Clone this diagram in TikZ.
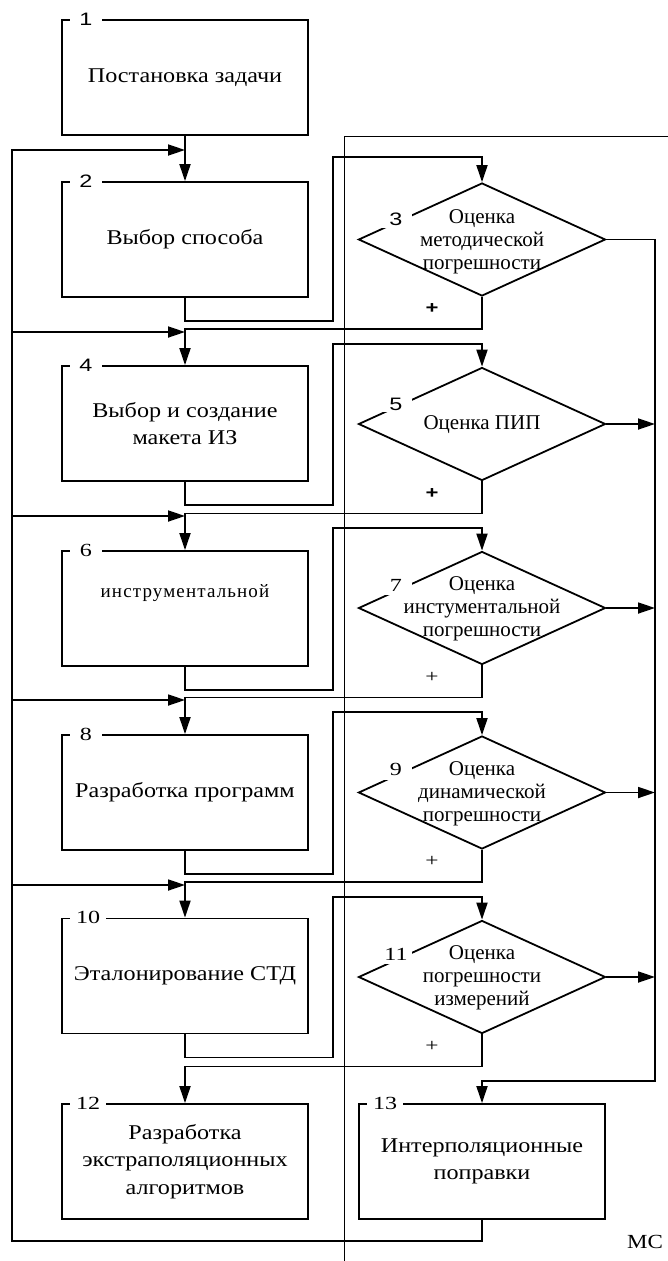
\documentclass[tikz,border=0pt]{standalone}
\usepackage{fontspec}
\setmainfont{Liberation Serif}
\newfontfamily\boxfont[FakeStretch=1.15]{Liberation Serif}
\newfontfamily\numsffont[FakeStretch=1.3]{Liberation Sans}
\newfontfamily\numrmfont[FakeStretch=1.3]{Liberation Serif}
\newfontfamily\wideletters[LetterSpace=6]{Liberation Serif}
\usetikzlibrary{arrows.meta,shapes.geometric,calc}

\begin{document}
\begin{tikzpicture}[x=1pt,y=-1pt,
  line width=1.8pt,
  stepbox/.style={draw, line width=1.8pt, minimum width=246pt, minimum height=115pt,
    inner sep=0pt, align=center, font=\boxfont\fontsize{21}{27.5}\selectfont},
  decision/.style={draw, diamond, line width=1.8pt, minimum width=247pt,
    minimum height=113pt, inner sep=0pt},
  dtext/.style={align=center, inner sep=0pt, font=\fontsize{21}{23}\selectfont},
  numsf/.style={fill=white, anchor=west, minimum width=32pt, inner xsep=6pt,
    inner ysep=1pt, font=\numsffont\fontsize{18}{18}\selectfont},
  numrm/.style={fill=white, anchor=west, minimum width=32pt, inner xsep=6pt,
    inner ysep=1pt, font=\numrmfont\fontsize{18.5}{18.5}\selectfont},
  dnumsf/.style={fill=white, minimum width=32pt, minimum height=16pt, inner sep=0pt,
    font=\numsffont\fontsize{18}{18}\selectfont},
  dnumrm/.style={fill=white, minimum width=32pt, minimum height=20pt, inner sep=0pt,
    font=\numrmfont\fontsize{18.5}{18.5}\selectfont},
  plussf/.style={inner sep=0pt, font=\numsffont\bfseries\fontsize{17}{17}\selectfont},
  plusrm/.style={inner sep=0pt, font=\numrmfont\fontsize{18}{18}\selectfont},
  arr/.style={-{Triangle[length=17pt,width=11pt]}},
]
\useasboundingbox (0,0) rectangle (668,1261);

% frame line
\draw[line width=0.9pt] (344,1261) |- (668,136);

% left column: process blocks
\node[stepbox] (b1)  at (185,77.5)   {Постановка задачи};
\node[stepbox] (b2)  at (185,239.5)  {Выбор способа};
\node[stepbox] (b4)  at (185,423.5)  {Выбор и создание\\макета ИЗ};
\node[stepbox] (b6)  at (185,608.5)  {};
\node[inner sep=0pt, font=\wideletters\fontsize{19}{19}\selectfont]
  (t6) at ([yshift=15pt]b6.center) {инструментальной};
\node[stepbox] (b8)  at (185,792.5)  {Разработка программ};
\node[stepbox] (b10) at (185,976)    {Эталонирование СТД};
\node[stepbox] (b12) at (185,1161.5) {Разработка\\экстраполяционных\\алгоритмов};
\node[stepbox] (b13) at (482,1161.5) {Интерполяционные\\поправки};

% right column: checks
\node[decision] (d3)  at (482,239.5) {};
\node[decision] (d5)  at (482,424)   {};
\node[decision] (d7)  at (482,608)   {};
\node[decision] (d9)  at (482,792.5) {};
\node[decision] (d11) at (482,977)   {};
\node[dtext] (t3)  at ([yshift=-2pt]d3.center)  {Оценка\\методической\\погрешности};
\node[dtext] (t5)  at ([yshift=-1pt]d5.center)  {Оценка ПИП};
\node[dtext] (t7)  at ([yshift=-1pt]d7.center)  {Оценка\\инстументальной\\погрешности};
\node[dtext] (t9)  at ([yshift=-1pt]d9.center)  {Оценка\\динамической\\погрешности};
\node[dtext] (t11) at ([yshift=-1pt]d11.center) {Оценка\\погрешности\\измерений};

% block numbers
\node[numsf] (n1)  at ([xshift=8pt]b1.north west)  {1};
\node[numsf] (n2)  at ([xshift=8pt]b2.north west)  {2};
\node[numsf] (n4)  at ([xshift=8pt]b4.north west)  {4};
\node[numrm] (n6)  at ([xshift=8pt]b6.north west)  {6};
\node[numrm] (n8)  at ([xshift=8pt]b8.north west)  {8};
\node[numrm] (n10) at ([xshift=8pt]b10.north west) {10};
\node[numrm] (n12) at ([xshift=8pt]b12.north west) {12};
\node[numrm] (n13) at ([xshift=8pt]b13.north west) {13};
\node[dnumsf] (n3)  at ([xshift=-86pt,yshift=20pt]d3.center)  {3};
\node[dnumsf] (n5)  at ([xshift=-86pt,yshift=20pt]d5.center)  {5};
\node[dnumrm] (n7)  at ([xshift=-86pt,yshift=23pt]d7.center)  {7};
\node[dnumrm] (n9)  at ([xshift=-86pt,yshift=23pt]d9.center)  {9};
\node[dnumrm] (n11) at ([xshift=-86pt,yshift=23pt]d11.center) {11};

% "+" outcomes
\node[plussf] (p3)  at ([xshift=-50pt,yshift=-12pt]d3.south)  {+};
\node[plussf] (p5)  at ([xshift=-50pt,yshift=-12pt]d5.south)  {+};
\node[plusrm] (p7)  at ([xshift=-50pt,yshift=-12pt]d7.south)  {+};
\node[plusrm] (p9)  at ([xshift=-50pt,yshift=-12pt]d9.south)  {+};
\node[plusrm] (p11) at ([xshift=-50pt,yshift=-12pt]d11.south) {+};

\node[inner sep=0pt, font=\boxfont\fontsize{20}{20}\selectfont] (mc) at (645,1242) {МС};

% junctions
\coordinate (j2)   at (185,150);
\coordinate (j4)   at (185,332);
\coordinate (j6)   at (185,516);
\coordinate (j8)   at (185,700);
\coordinate (j10)  at (185,885);
\coordinate (rail) at (12,1241);
\coordinate (col)  at (655,1081);

% main flow
\draw[arr] (b1.south) -- (b2.north);
\draw[arr] (b2.south)  -- ++(0,23) -- ++(148,0) |- ([yshift=25pt]d3.north)  -- (d3.north);
\draw[arr] (b4.south)  -- ++(0,23) -- ++(148,0) |- ([yshift=23pt]d5.north)  -- (d5.north);
\draw[arr] (b6.south)  -- ++(0,23) -- ++(148,0) |- ([yshift=23pt]d7.north)  -- (d7.north);
\draw[arr] (b8.south)  -- ++(0,23) -- ++(148,0) |- ([yshift=23pt]d9.north)  -- (d9.north);
\draw[arr] (b10.south) -- ++(0,23) -- ++(148,0) |- ([yshift=23pt]d11.north) -- (d11.north);
\draw[arr] (d3.south)  -- ++(0,32) -| (b4.north);
\draw[arr] (d5.south)  -- ++(0,32) -| (b6.north);
\draw[arr] (d7.south)  -- ++(0,32) -| (b8.north);
\draw[arr] (d9.south)  -- ++(0,32) -| (b10.north);
\draw[arr] (d11.south) -- ++(0,32) -| (b12.north);

% feedback rail on the left
\draw[arr] (b13.south) |- (rail) |- (j2);
\draw[arr] (rail |- j4)  -- (j4);
\draw[arr] (rail |- j6)  -- (j6);
\draw[arr] (rail |- j8)  -- (j8);
\draw[arr] (rail |- j10) -- (j10);

% collector on the right
\draw[arr] (d3.east) -| (col) -| (b13.north);
\draw[arr] (d5.east)  -- (d5.east -| col);
\draw[arr] (d7.east)  -- (d7.east -| col);
\draw[arr] (d9.east)  -- (d9.east -| col);
\draw[arr] (d11.east) -- (d11.east -| col);
\end{tikzpicture}
\end{document}
